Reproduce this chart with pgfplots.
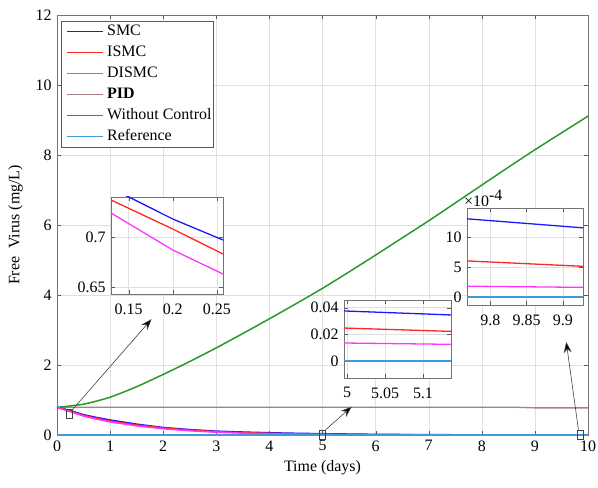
\documentclass[border=0pt]{standalone}
\usepackage{fontspec}
\setmainfont{Liberation Serif}
\usepackage{pgfplots}
\usepackage{pgfplotstable}
\pgfplotsset{compat=1.18}
\usetikzlibrary{arrows.meta,calc}

\definecolor{cSMC}{rgb}{0.1,0.1,1}
\definecolor{cISMC}{rgb}{1,0.15,0.15}
\definecolor{cDISMC}{rgb}{1,0.2,1}
\definecolor{cPID}{rgb}{0.68,0.5,0.5}
\definecolor{cNone}{rgb}{0.16,0.6,0.16}
\definecolor{refblue}{rgb}{0.25,0.6,0.85}

% controlled responses (mg/L)
\pgfplotstableread{
t      smc     ismc    dismc
0      0.790   0.790   0.790
0.13   0.749   0.737   0.724
0.2    0.718   0.708   0.687
0.257  0.697   0.683   0.663
0.5    0.580   0.560   0.540
0.75   0.500   0.475   0.450
1      0.430   0.400   0.375
1.5    0.310   0.285   0.260
2      0.215   0.200   0.178
2.5    0.155   0.138   0.120
3      0.110   0.095   0.080
3.5    0.085   0.067   0.053
4      0.064   0.047   0.035
4.5    0.049   0.034   0.022
4.996  0.0375  0.0247  0.0135
5.137  0.0345  0.0222  0.0125
6      0.0187  0.0113  0.0058
7      0.0092  0.0052  0.0024
8      0.0046  0.0024  0.0010
9      0.0023  0.0011  0.0004
9.768  0.0013  0.0006  0.00018
9.928  0.00115 0.00051 0.00016
10     0.0011  0.00048 0.00015
}\ctrl

\pgfplotstableread{
t     free   pid
0     0.79   0.79
0.5   0.88   0.79
1     1.08   0.79
1.5   1.38   0.79
2     1.73   0.79
2.5   2.10   0.79
3     2.49   0.79
3.5   2.90   0.79
4     3.32   0.79
4.5   3.75   0.79
5     4.19   0.79
5.5   4.66   0.79
6     5.14   0.79
6.5   5.63   0.79
7     6.12   0.79
7.5   6.63   0.79
8     7.14   0.79
8.5   7.65   0.79
8.7   7.85   0.79
9     8.15   0.775
9.5   8.63   0.775
10    9.11   0.775
}\open

\pgfplotstableread{
t  r
0  0
10 0
}\refr

\pgfplotsset{
  mat/.style={
    scale only axis,
    tick align=inside,
    major tick length=4bp,
    tick style={black!65},
    axis line style={black!55, line width=0.9pt},
    grid=major,
    major grid style={black!12},
    ticklabel style={font=\fontsize{16}{19}\selectfont},
    /pgf/number format/assume math mode=true,
    label style={font=\fontsize{16}{19}\selectfont},
  },
  inset/.style={mat, axis background/.style={fill=white},
    clip mode=individual,
    xticklabel style={yshift=-4bp}},
}

\begin{document}
\fontsize{16}{19}\selectfont
\begin{tikzpicture}
\begin{axis}[mat, name=main,
  width=531bp, height=420bp,
  xmin=0, xmax=10, ymin=0, ymax=12,
  xtick={0,1,...,10}, ytick={0,2,...,12},
  clip=false,
  xlabel={Time (days)}, ylabel={Free\ \ Virus (mg/L)},
  xlabel style={yshift=2bp},
  ylabel style={yshift=2bp},
]
\addplot[cPID, line width=1.3pt] table[x=t, y=pid] {\open};
\addplot[cNone, line width=1.5pt, smooth, tension=0.4] table[x=t, y=free] {\open};
\addplot[cSMC, line width=1.5pt] table[x=t, y=smc] {\ctrl};
\addplot[cISMC, line width=1.5pt] table[x=t, y=ismc] {\ctrl};
\addplot[cDISMC, line width=1.5pt] table[x=t, y=dismc] {\ctrl};
\addplot[refblue, line width=1.5pt] table[x=t, y=r] {\refr};

\draw[black!75, line width=0.6pt] (axis cs:0.24,0.61) +(-3bp,-4.5bp) rectangle +(3bp,4.5bp);
\draw[black!75, line width=0.6pt] (axis cs:5.0,0.02) +(-3bp,-4.5bp) rectangle +(3bp,4.5bp);
\draw[black!75, line width=0.6pt] (axis cs:9.85,0.02) +(-3bp,-4.5bp) rectangle +(3bp,4.5bp);
\draw[black!75, line width=0.6pt, -{Stealth[length=11bp,width=8bp,fill=black]}]
  (axis cs:0.3,0.74) -- (axis cs:1.78,3.31);
\draw[black!75, line width=0.6pt, -{Stealth[length=11bp,width=8bp,fill=black]}]
  (axis cs:5.06,0.15) -- (axis cs:5.55,0.81);
\draw[black!75, line width=0.6pt, -{Stealth[length=11bp,width=8bp,fill=black]}]
  (axis cs:9.82,0.15) -- (axis cs:9.59,2.66);

% legend: box, colour strips (filled), texts
\coordinate (L) at (rel axis cs:0,1);
\filldraw[draw=black!65, fill=white, line width=0.8pt]
  ($(L)+(4bp,-6bp)$) rectangle ($(L)+(156bp,-132bp)$);
\fill[cSMC]    ($(L)+(10bp,-17.25bp)$)  rectangle ++(36bp,1.6bp);
\fill[cISMC]   ($(L)+(10bp,-38.25bp)$)  rectangle ++(36bp,1.6bp);
\fill[cDISMC]  ($(L)+(10bp,-59.25bp)$)  rectangle ++(36bp,1.6bp);
\fill[cPID]    ($(L)+(10bp,-80.25bp)$)  rectangle ++(36bp,1.6bp);
\fill[cNone]   ($(L)+(10bp,-101.25bp)$) rectangle ++(36bp,1.6bp);
\fill[refblue] ($(L)+(10bp,-122.25bp)$) rectangle ++(36bp,1.6bp);
\node[anchor=west, inner sep=0pt, text=black] at ($(L)+(50bp,-16.5bp)$) {\strut SMC};
\node[anchor=west, inner sep=0pt, text=black] at ($(L)+(50bp,-37.5bp)$) {\strut ISMC};
\node[anchor=west, inner sep=0pt, text=black] at ($(L)+(50bp,-58.5bp)$) {\strut DISMC};
\node[anchor=west, inner sep=0pt, text=black] at ($(L)+(50bp,-79.5bp)$) {\strut\textbf{PID}};
\node[anchor=west, inner sep=0pt, text=black] at ($(L)+(50bp,-100.5bp)$) {\strut Without Control};
\node[anchor=west, inner sep=0pt, text=black] at ($(L)+(50bp,-121.5bp)$) {\strut Reference};
\end{axis}

% inset near t = 0.2
\begin{axis}[inset,
  at={($(main.south west)+(54bp,238bp)$)}, anchor=north west,
  width=112bp, height=97bp,
  xmin=0.13, xmax=0.257, ymin=0.643, ymax=0.740,
  xtick={0.15,0.2,0.25}, ytick={0.65,0.7},
]
\addplot[cSMC, line width=1.3pt, restrict x to domain=0:0.6] table[x=t, y=smc] {\ctrl};
\addplot[cISMC, line width=1.3pt, restrict x to domain=0:0.6] table[x=t, y=ismc] {\ctrl};
\addplot[cDISMC, line width=1.3pt, restrict x to domain=0:0.6] table[x=t, y=dismc] {\ctrl};
\end{axis}

% inset near t = 5
\begin{axis}[inset,
  at={($(main.south west)+(287bp,135bp)$)}, anchor=north west,
  width=107bp, height=78bp,
  xmin=4.996, xmax=5.137, ymin=-0.0127, ymax=0.0457,
  xtick={5,5.05,5.1}, ytick={0,0.02,0.04},
  scaled y ticks=false,
  yticklabel style={/pgf/number format/fixed, /pgf/number format/precision=2},
  xticklabel style={/pgf/number format/precision=2},
]
\addplot[cSMC, line width=1.3pt, restrict x to domain=4.9:5.2] table[x=t, y=smc] {\ctrl};
\addplot[cISMC, line width=1.3pt, restrict x to domain=4.9:5.2] table[x=t, y=ismc] {\ctrl};
\addplot[cDISMC, line width=1.3pt, restrict x to domain=4.9:5.2] table[x=t, y=dismc] {\ctrl};
\addplot[refblue, line width=1.3pt] table[x=t, y=r] {\refr};
\end{axis}

% inset near t = 9.85 (values x 1e-4)
\begin{axis}[inset,
  at={($(main.south west)+(410bp,227bp)$)}, anchor=north west,
  width=116bp, height=97bp,
  xmin=9.768, xmax=9.928, ymin=-1.33, ymax=14.8,
  xtick={9.8,9.85,9.9}, ytick={0,5,10},
  xticklabel style={/pgf/number format/precision=2},
]
\addplot[cSMC, line width=1.3pt, restrict x to domain=9.7:10] table[x=t, y expr=\thisrow{smc}*10000] {\ctrl};
\addplot[cISMC, line width=1.3pt, restrict x to domain=9.7:10] table[x=t, y expr=\thisrow{ismc}*10000] {\ctrl};
\addplot[cDISMC, line width=1.3pt, restrict x to domain=9.7:10] table[x=t, y expr=\thisrow{dismc}*10000] {\ctrl};
\addplot[refblue, line width=1.3pt] table[x=t, y=r] {\refr};
\end{axis}
\node[anchor=south west, inner sep=1bp] at ($(main.south west)+(406bp,227bp)$)
  {×10\raisebox{0.8ex}{-4}};

\pgfresetboundingbox
\path ([shift={(-57bp,-53bp)}]main.south west) rectangle ([shift={(10bp,15bp)}]main.north east);
\end{tikzpicture}
\end{document}
